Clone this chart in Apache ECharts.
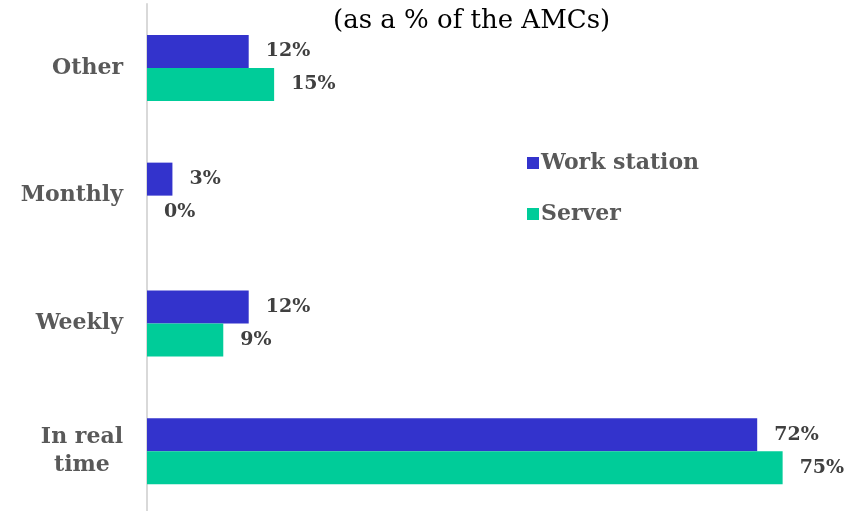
<!DOCTYPE html>
<html>
<head>
<meta charset="utf-8">
<script src="https://cdn.jsdelivr.net/npm/echarts@6/dist/echarts.min.js"></script>
<style>
  html, body { margin: 0; padding: 0; background: #fff; overflow: hidden; }
  #main { width: 854px; height: 516px; }
</style>
</head>
<body>
<div id="main"></div>
<script>
// categories listed bottom to top
var categories = ['In real time', 'Weekly', 'Monthly', 'Other'];
var workStation = [72, 12, 3, 12];
var server = [75, 9, 0, 15];
var seriesNames = ['Work station', 'Server'];

var serif = '"DejaVu Serif", "Liberation Serif", serif';

var chart = echarts.init(document.getElementById('main'));

var valueLabel = {
    show: true,
    position: 'right',
    distance: 17,
    formatter: '{c}%',
    color: '#404040',
    fontFamily: serif,
    fontWeight: 'bold',
    fontSize: 19
};

var option = {
    animation: false,
    title: {
        text: '(as a % of the AMCs)',
        left: 328,
        top: 3,
        textStyle: {
            fontFamily: serif,
            fontWeight: 'normal',
            fontSize: 26,
            color: '#000'
        }
    },
    legend: {
        data: seriesNames,
        orient: 'vertical',
        left: 522,
        top: 147,
        icon: 'rect',
        itemWidth: 12,
        itemHeight: 12,
        itemGap: 29,
        textStyle: {
            fontFamily: serif,
            fontWeight: 'bold',
            fontSize: 22,
            color: '#595959',
            padding: [0, 0, 0, -3]
        }
    },
    grid: {
        left: 147,
        top: 4,
        width: 678,
        height: 511,
        containLabel: false
    },
    xAxis: {
        type: 'value',
        min: 0,
        max: 80,
        show: false,
        splitLine: { show: false }
    },
    yAxis: {
        type: 'category',
        data: categories,
        axisTick: { show: false },
        axisLine: { lineStyle: { color: '#D9D9D9', width: 2 } },
        axisLabel: {
            margin: 24,
            color: '#595959',
            fontFamily: serif,
            fontWeight: 'bold',
            fontSize: 22,
            formatter: function (v) {
                if (v === 'In real time') return '{c|In real}\n{c|time}';
                return v;
            },
            rich: {
                c: {
                    align: 'center',
                    color: '#595959',
                    fontFamily: serif,
                    fontWeight: 'bold',
                    fontSize: 22,
                    lineHeight: 28
                }
            }
        }
    },
    series: [
        {
            name: 'Work station',
            type: 'bar',
            data: workStation,
            barWidth: 33,
            barGap: '0%',
            itemStyle: { color: '#3333CC' },
            label: valueLabel
        },
        {
            name: 'Server',
            type: 'bar',
            data: server,
            barWidth: 33,
            barGap: '0%',
            itemStyle: { color: '#00CC99' },
            label: valueLabel
        }
    ]
};

chart.setOption(option);
</script>
</body>
</html>
